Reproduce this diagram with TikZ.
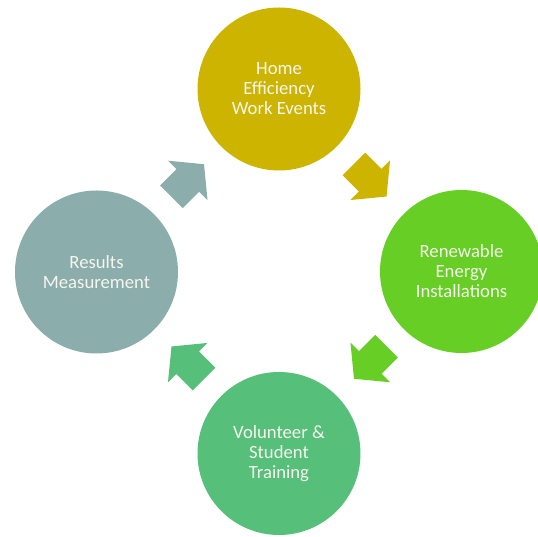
\documentclass[tikz,border=0pt]{standalone}
\usepackage{fontspec}
\setmainfont{Carlito}
\definecolor{cyel}{RGB}{205,180,0}
\definecolor{clime}{RGB}{102,206,36}
\definecolor{cgrn}{RGB}{86,191,122}
\definecolor{cgry}{RGB}{139,173,172}
\definecolor{ctxt}{RGB}{246,246,238}
\tikzset{
  stage/.style={circle, minimum size=163pt, inner sep=0pt, align=center,
    text=ctxt, font=\fontsize{18.7}{20}\selectfont},
}
\newcommand\blockarrow[3]{%
  \fill[#3, shift={(#1)}, rotate=#2] (-23,16) -- (0,16) -- (0,28) -- (23,0) -- (0,-28) -- (0,-16) -- (-23,-16) -- cycle;}
\begin{document}
\begin{tikzpicture}[x=1pt,y=1pt]
\useasboundingbox (0,0) rectangle (538,537);
\clip (0,0) rectangle (538,537);
\node[stage, fill=cyel] (c1) at (279,448) {Home\\Efficiency\\Work Events};
\node[stage, fill=clime] (c2) at (461.5,265.5) {Renewable\\Energy\\Installations};
\node[stage, fill=cgrn] (c3) at (279,83.5) {Volunteer \&\\Student\\Training};
\node[stage, fill=cgry] (c4) at (96.5,265) {Results\\Measurement};
\path (c1.center) -- (c2.center) coordinate[midway] (m12);
\path (c2.center) -- (c3.center) coordinate[midway] (m23);
\path (c3.center) -- (c4.center) coordinate[midway] (m34);
\path (c4.center) -- (c1.center) coordinate[midway] (m41);
\blockarrow{m12}{-45}{cyel}
\blockarrow{m23}{-135}{clime}
\blockarrow{m34}{135}{cgrn}
\blockarrow{m41}{45}{cgry}
\end{tikzpicture}
\end{document}
